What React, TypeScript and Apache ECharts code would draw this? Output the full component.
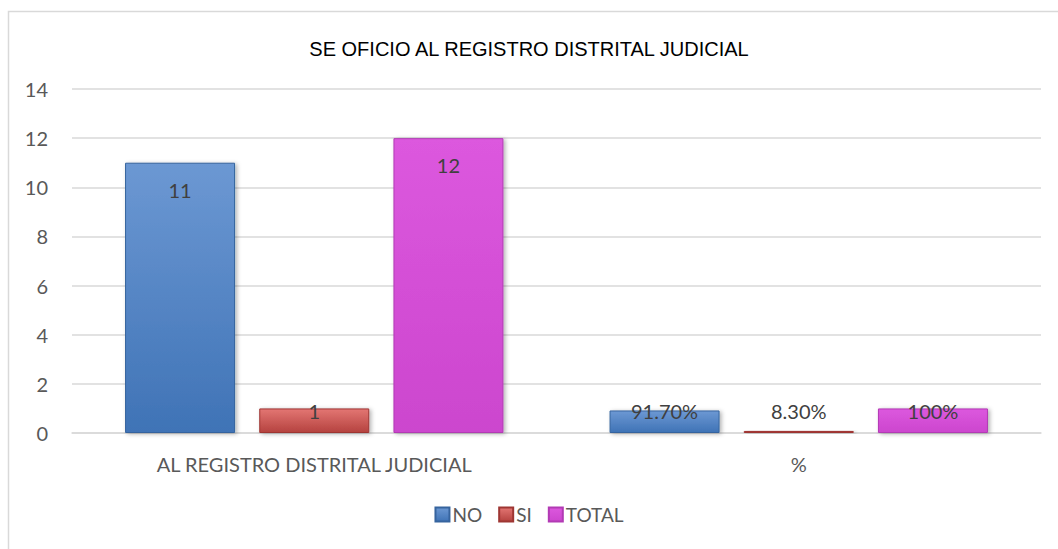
import React, { useEffect, useRef } from "react";
import * as echarts from "echarts";

const categories = ["AL REGISTRO DISTRITAL JUDICIAL", "%"];
const seriesNames = ["NO", "SI", "TOTAL"];
const noValues = [11, 0.917];
const siValues = [1, 0.083];
const totalValues = [12, 1];
const noLabels = ["11", "91.70%"];
const siLabels = ["1", "8.30%"];
const totalLabels = ["12", "100%"];
const yTicks = [0, 14, 2];

const FONT = "Lato, 'Open Sans', sans-serif";

function grad(top: string, bottom: string) {
  return new echarts.graphic.LinearGradient(0, 0, 0, 1, [
    { offset: 0, color: top },
    { offset: 1, color: bottom },
  ]);
}

function makeSeries(name: string, values: number[], labels: string[], top: string, bottom: string, border: string) {
  return {
    name,
    type: "bar",
    barWidth: 110,
    barGap: "22%",
    itemStyle: {
      color: grad(top, bottom),
      borderColor: border,
      borderWidth: 1,
      shadowColor: "rgba(0,0,0,0.3)",
      shadowBlur: 4,
      shadowOffsetX: 2,
      shadowOffsetY: 1,
    },
    data: values.map((v, i) => ({
      value: v,
      label:
        v < 3
          ? { show: true, position: "insideBottom", distance: 12, formatter: labels[i] }
          : { show: true, position: "insideTop", distance: 17, formatter: labels[i] },
    })),
    label: { color: "#404040", fontSize: 20, fontFamily: FONT },
  };
}

export default function App() {
  const ref = useRef<HTMLDivElement>(null);
  useEffect(() => {
    const chart = echarts.init(ref.current!, null, { renderer: "svg" });
    chart.setOption({
      animation: false,
      backgroundColor: "#ffffff",
      color: ["#4F81C4", "#C0504D", "#D64FD8"],
      title: {
        text: "SE OFICIO AL REGISTRO DISTRITAL JUDICIAL",
        left: "center",
        top: 34,
        textStyle: { fontFamily: "'Liberation Sans', Arial, sans-serif", fontSize: 20, fontWeight: "normal", color: "#000000" },
      },
      graphic: [
        {
          type: "rect",
          shape: { x: 8.5, y: 11.5, width: 1200, height: 700 },
          style: { fill: "none", stroke: "#D9D9D9", lineWidth: 1.5 },
          silent: true,
          z: -1,
        },
      ],
      legend: {
        bottom: 20,
        left: "center",
        itemWidth: 14,
        itemHeight: 14,
        itemGap: 16,
        icon: "rect",
        textStyle: { fontFamily: FONT, fontSize: 19, color: "#595959", padding: [0, 0, 0, -2] },
        data: seriesNames,
      },
      grid: { left: 72, right: 17, top: 89, bottom: 116 },
      xAxis: {
        type: "category",
        data: categories,
        axisLine: { lineStyle: { color: "#D9D9D9", width: 1.5 } },
        axisTick: { show: false },
        axisLabel: { fontFamily: FONT, fontSize: 20, color: "#595959", margin: 21 },
      },
      yAxis: {
        type: "value",
        min: yTicks[0],
        max: yTicks[1],
        interval: yTicks[2],
        axisLine: { show: false },
        axisTick: { show: false },
        splitLine: { lineStyle: { color: "#D9D9D9", width: 1.5 } },
        axisLabel: { fontFamily: FONT, fontSize: 20, color: "#595959", margin: 24 },
      },
      series: [
        makeSeries(seriesNames[0], noValues, noLabels, "#6C98D3", "#3F73B6", "#36649E"),
        makeSeries(seriesNames[1], siValues, siLabels, "#E37673", "#B5423F", "#9E3633"),
        makeSeries(seriesNames[2], totalValues, totalLabels, "#DC58DE", "#CC46CE", "#B23AB4"),
      ],
    });
    return () => chart.dispose();
  }, []);
  return <div ref={ref} style={{ position: "fixed", left: 0, top: 0, width: 1058, height: 549 }} />;
}
